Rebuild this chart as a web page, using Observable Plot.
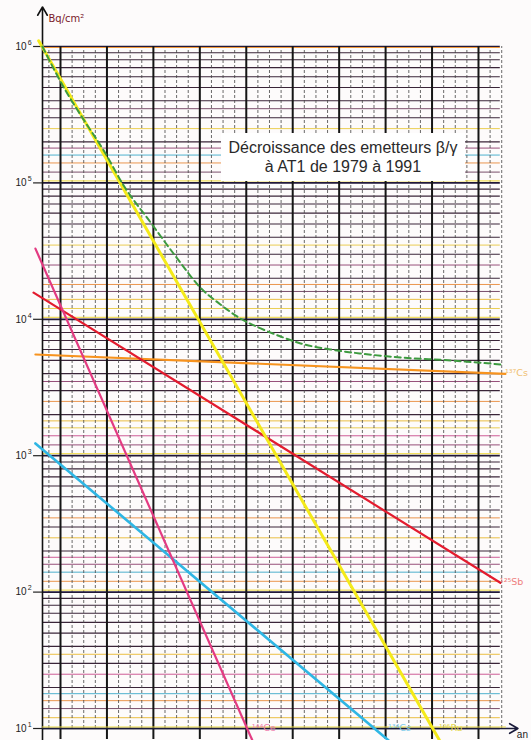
<!DOCTYPE html>
<html><head><meta charset="utf-8">
<script src="https://cdn.jsdelivr.net/npm/d3@7"></script>
<script src="https://cdn.jsdelivr.net/npm/@observablehq/plot@0.6"></script>
<style>
body{margin:0;background:#fff;font-family:"Liberation Sans",Arial,sans-serif;}
#wrap{position:relative;width:531px;height:740px;overflow:hidden;background:#fdfbfb;}
#title{position:absolute;left:221px;top:133px;width:244px;height:48px;background:#fff;color:#2a2a2a;font-size:16px;line-height:19px;text-align:center;padding-top:5px;box-sizing:border-box;}
</style></head>
<body><div id="wrap"><div id="chart"></div><div id="title">Décroissance des emetteurs β/γ<br>à AT1 de 1979 à 1991</div></div>
<script>
// ---- data (x in "an" units, y in Bq/cm²) ----
const ru106X = [-0.47, 8.16];  const ru106Y = [1.1e6, 8.2];
const ce144X = [-0.54, 4.13];  const ce144Y = [33000, 8.2];
const cs134X = [-0.54, 7.06];  const cs134Y = [1230, 8.2];
const sb125X = [-0.58, 9.47];  const sb125Y = [15700, 117];
const cs137X = [-0.54, 9.58];  const cs137Y = [5520, 3980];
const totalX = [-0.39, 0.11, 0.47, 0.93, 1.36, 1.94, 2.48, 3.01, 3.45, 3.88, 4.31, 4.74, 5.17, 5.81, 6.46, 7.32, 8.40, 9.47];
const totalY = [1e6, 475000, 301000, 173000, 95700, 51300, 28900, 17100, 12800, 10100, 8570, 7480, 6650, 6010, 5610, 5250, 4990, 4670];
const tickValues = [1e1, 1e2, 1e3, 1e4, 1e5, 1e6];
const tickBase = "10";
const tickExponents = ["1", "2", "3", "4", "5", "6"];
const seriesLabels = ["¹³⁷Cs", "¹²⁵Sb", "¹⁴⁴Ce", "¹³⁴Cs", "¹⁰⁶Ru"];
const majorYears = [0,1,2,3,4,5,6,7,8,9];
const subSteps = [1.2,1.4,1.6,1.8,2,2.5,3,3.5,4,5,6,7,8,9];

// ---- derived tables ----
const pts = (xs, ys) => xs.map((x, i) => ({x, y: ys[i]}));
const X0 = -0.3876, XR = 9.47;
const minorX = d3.range(-1, 39).map(k => k / 4).filter(v => v > X0 && v % 1 !== 0);
const gridPalette = ["#e8b830", "#6a3a5a", "#e88a3a", "#3aa8c8", "#8a3a6a", "#c84a8a", "#e8c840"];
const gridY = [];
tickValues.slice(0, 5).forEach((dec, di) => subSteps.forEach((m, mi) => {
  const integer = Number.isInteger(m);
  gridY.push({v: dec * m, c: integer ? "#3a2438" : gridPalette[(mi + 2 * di) % gridPalette.length], w: integer ? 1.1 : 0.9});
}));
const labelData = [
  {x: cs137X[1], y: cs137Y[1], t: seriesLabels[0], c: "#f0c070", dx: 0, dy: 11},
  {x: sb125X[1], y: sb125Y[1], t: seriesLabels[1], c: "#ef7f7f", dx: 3, dy: 16},
  {x: ce144X[1], y: 10, t: seriesLabels[2], c: "#f07fae", dx: 3, dy: 5},
  {x: cs134X[1], y: 10, t: seriesLabels[3], c: "#7fcdec", dx: 0, dy: 5},
  {x: ru106X[1], y: 10, t: seriesLabels[4], c: "#e6d850", dx: 6, dy: 5}
];
const supFont = "DejaVu Sans, sans-serif";

const chart = Plot.plot({
  width: 531, height: 740,
  marginLeft: 42, marginRight: 29, marginTop: 46, marginBottom: 12,
  x: {domain: [X0, 9.517], axis: null},
  y: {type: "log", domain: [10, 1e6], axis: null},
  style: {fontFamily: "Liberation Sans, Arial, sans-serif", background: "transparent"},
  marks: [
    Plot.ruleY(gridY, {y: "v", x1: () => X0, x2: () => XR, stroke: "c", strokeWidth: "w"}),
    Plot.ruleX(minorX, {x: d => d, y1: () => 10, y2: () => 1e6, stroke: "#444", strokeWidth: 0.8, strokeDasharray: "3,2"}),
    Plot.ruleY(tickValues, {y: d => d, x1: () => X0, x2: () => XR, stroke: "#22183a", strokeWidth: 1.7}),
    Plot.ruleY(tickValues.slice(1, 5), {y: d => d, x1: () => X0, x2: () => XR, stroke: "#f0d83a", strokeWidth: 1, dy: -2}),
    Plot.ruleY([1e6], {y: d => d, x1: () => X0, x2: () => XR, stroke: "#f09a3a", strokeWidth: 1.2, dy: 1}),
    Plot.ruleX(majorYears, {x: d => d, y1: () => 8.3, y2: () => 1e6, stroke: "#151515", strokeWidth: 2}),
    Plot.arrow([0], {x1: () => X0, x2: () => X0, y1: () => 8.2, y2: () => 1.95e6, stroke: "#111", strokeWidth: 1.6, headLength: 9}),
    Plot.arrow([0], {x1: () => X0, x2: () => 9.85, y1: () => 10, y2: () => 10, stroke: "#1a1a3a", strokeWidth: 1.6, headLength: 9}),
    Plot.ruleY([1e1], {y: d => d, x1: () => X0, x2: () => 9.6, stroke: "#e8d840", strokeWidth: 1, dy: -1.5}),
    Plot.ruleY(tickValues, {y: d => d, x1: () => -0.58, x2: () => X0, stroke: "#222", strokeWidth: 1.2}),
    Plot.text(tickValues, {x: () => -0.58, y: d => d, text: () => tickBase, textAnchor: "end", dx: -7, dy: 0, fontSize: 10, fill: "#222"}),
    Plot.text(tickValues, {x: () => -0.58, y: d => d, text: (d, i) => tickExponents[i], textAnchor: "end", dx: -2, dy: -4, fontSize: 7, fill: "#222"}),
    Plot.text([0], {x: () => X0, y: () => 1.6e6, text: () => "Bq/cm²", textAnchor: "start", dx: 6, fontSize: 10, fill: "#7a1a2a", fontFamily: supFont}),
    Plot.text([0], {x: () => 9.85, y: () => 10, text: () => "an", textAnchor: "end", dx: 10, dy: 6, fontSize: 10, fill: "#222"}),
    Plot.line(pts(cs137X, cs137Y), {x: "x", y: "y", stroke: "#f7931e", strokeWidth: 2.2}),
    Plot.line(pts(sb125X, sb125Y), {x: "x", y: "y", stroke: "#e31b2e", strokeWidth: 2.2}),
    Plot.line(pts(cs134X, cs134Y), {x: "x", y: "y", stroke: "#2fb6e4", strokeWidth: 2.6}),
    Plot.line(pts(ce144X, ce144Y), {x: "x", y: "y", stroke: "#e33b82", strokeWidth: 2.2}),
    Plot.line(pts(ru106X, ru106Y), {x: "x", y: "y", stroke: "#f4ea1a", strokeWidth: 3}),
    Plot.line(pts(totalX, totalY), {x: "x", y: "y", stroke: "#3d9a3f", strokeWidth: 2, strokeDasharray: "6,4", curve: "monotone-x"}),
    Plot.text(labelData, {x: "x", y: "y", text: "t", fill: "c", dx: "dx", dy: "dy", textAnchor: "start", fontSize: 9.5, fontFamily: supFont})
  ]
});
document.getElementById("chart").appendChild(chart);
</script>
</body></html>
